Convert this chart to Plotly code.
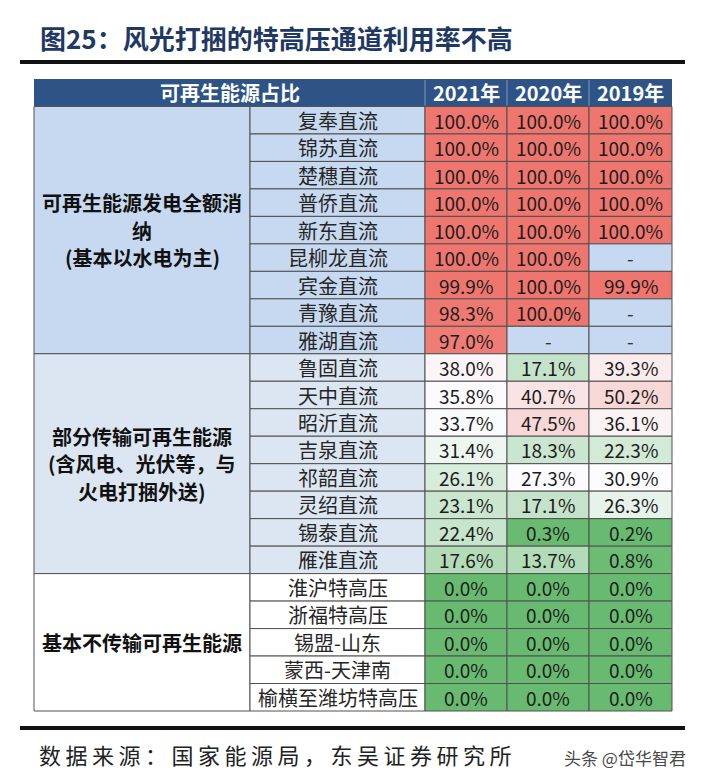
import numpy as np
import plotly.graph_objects as go

# ---------------- data ----------------
title_text = "图25：风光打捆的特高压通道利用率不高"
source_text = "数据来源：国家能源局，东吴证券研究所"
watermark_text = "头条 @岱华智君"
header_label = "可再生能源占比"
years = ["2021年", "2020年", "2019年"]

group_lines = [
    ["可再生能源发电全额消", "纳", "(基本以水电为主)"],
    ["部分传输可再生能源", "(含风电、光伏等，与", "火电打捆外送)"],
    ["基本不传输可再生能源"],
]
group_sizes = [9, 8, 5]

lines = ["复奉直流", "锦苏直流", "楚穗直流", "普侨直流", "新东直流", "昆柳龙直流",
         "宾金直流", "青豫直流", "雅湖直流", "鲁固直流", "天中直流", "昭沂直流",
         "吉泉直流", "祁韶直流", "灵绍直流", "锡泰直流", "雁淮直流", "淮沪特高压",
         "浙福特高压", "锡盟-山东", "蒙西-天津南", "榆横至潍坊特高压"]

v2021 = [100.0, 100.0, 100.0, 100.0, 100.0, 100.0, 99.9, 98.3, 97.0, 38.0, 35.8,
         33.7, 31.4, 26.1, 23.1, 22.4, 17.6, 0.0, 0.0, 0.0, 0.0, 0.0]
v2020 = [100.0, 100.0, 100.0, 100.0, 100.0, 100.0, 100.0, 100.0, None, 17.1, 40.7,
         47.5, 18.3, 27.3, 17.1, 0.3, 13.7, 0.0, 0.0, 0.0, 0.0, 0.0]
v2019 = [100.0, 100.0, 100.0, 100.0, 100.0, None, 99.9, None, None, 39.3, 50.2,
         36.1, 22.3, 30.9, 26.3, 0.2, 0.8, 0.0, 0.0, 0.0, 0.0, 0.0]
values = [v2021, v2020, v2019]

# ---------------- style / layout ----------------
W, H = 704, 780
X_EDGES = [34, 250, 425, 507, 589, 672]
HEADER_TOP, TABLE_BOTTOM = 79, 711
n_rows = len(lines)
ROW_PX = (TABLE_BOTTOM - HEADER_TOP) / (n_rows + 1)
# y axis in row units: header is row -1, data rows 0..n-1
y_top = -1 - HEADER_TOP / ROW_PX
y_bot = n_rows + (H - TABLE_BOTTOM) / ROW_PX

FONT = "Noto Sans CJK SC"
HEADER_BG = "#2e5487"
GROUP_BG = ["#c6d9f0", "#dce6f2", "#ffffff"]
DASH_BG = "#c6d9f0"
GRID = "#505050"
RED = np.array([238, 118, 110])
WHITE = np.array([252, 252, 255])
GREEN = np.array([104, 186, 112])


def scale_color(v, lo, mid, hi):
    if v >= mid:
        t = 0 if hi == mid else (v - mid) / (hi - mid)
        c = WHITE + (RED - WHITE) * t
    else:
        t = 0 if mid == lo else (mid - v) / (mid - lo)
        c = WHITE + (GREEN - WHITE) * t
    c = np.clip(np.round(c), 0, 255).astype(int)
    return f"rgb({c[0]},{c[1]},{c[2]})"


shapes = []
annotations = []


def rect(x0, x1, y0, y1, fill, line_color=GRID, lw=1):
    shapes.append(dict(type="rect", xref="x", yref="y", x0=x0, x1=x1, y0=y0, y1=y1,
                       fillcolor=fill, line=dict(color=line_color, width=lw),
                       layer="below"))


def text(x, y, s, size=20, color="#1a1a1a", bold=False):
    annotations.append(dict(xref="x", yref="y", x=x, y=y, text=f"<b>{s}</b>" if bold else s,
                            showarrow=False, xanchor="center", yanchor="middle",
                            font=dict(family=FONT, size=size, color=color)))


# header
rect(X_EDGES[0], X_EDGES[-1], -1, 0, HEADER_BG, HEADER_BG, 0)
for xe in X_EDGES[2:5]:
    shapes.append(dict(type="line", xref="x", yref="y", x0=xe, x1=xe, y0=-0.97, y1=-0.03,
                       line=dict(color="#7d99c0", width=1)))
text((X_EDGES[0] + X_EDGES[2]) / 2, -0.5, header_label, size=20, color="white", bold=True)
for j, yr in enumerate(years):
    text((X_EDGES[2 + j] + X_EDGES[3 + j]) / 2, -0.5, yr, size=20, color="white", bold=True)

# group column + names
row_group = []
start = 0
for g, size in enumerate(group_sizes):
    rect(X_EDGES[0], X_EDGES[1], start, start + size, GROUP_BG[g])
    mid = start + size / 2
    nl = len(group_lines[g])
    for k, s in enumerate(group_lines[g]):
        text((X_EDGES[0] + X_EDGES[1]) / 2, mid + (k - (nl - 1) / 2), s, size=20,
             color="#111111", bold=True)
    row_group += [g] * size
    start += size

for i, name in enumerate(lines):
    rect(X_EDGES[1], X_EDGES[2], i, i + 1, GROUP_BG[row_group[i]])
    text((X_EDGES[1] + X_EDGES[2]) / 2, i + 0.5, name, size=20, color="#262626")

# value cells
for j, col in enumerate(values):
    nums = [v for v in col if v is not None]
    lo, hi, mid = min(nums), max(nums), float(np.median(nums))
    for i, v in enumerate(col):
        x0, x1 = X_EDGES[2 + j], X_EDGES[3 + j]
        if v is None:
            rect(x0, x1, i, i + 1, DASH_BG)
            text((x0 + x1) / 2, i + 0.5, "-", size=19, color="#333333")
        else:
            rect(x0, x1, i, i + 1, scale_color(v, lo, mid, hi))
            text((x0 + x1) / 2, i + 0.5, f"{v:.1f}%", size=19, color="#1c1c1c")

# title, rules, footer
annotations.append(dict(xref="paper", yref="paper", x=38 / W, y=1 - 37 / H, text=f"<b>{title_text}</b>",
                        showarrow=False, xanchor="left", yanchor="middle",
                        font=dict(family=FONT, size=26, color="#1f3864")))
for yy in (62, 728):
    shapes.append(dict(type="line", xref="x", yref="paper", x0=20, x1=685,
                       y0=1 - yy / H, y1=1 - yy / H, line=dict(color="#111111", width=4)))
annotations.append(dict(xref="paper", yref="paper", x=37 / W, y=1 - 754 / H, text=source_text,
                        showarrow=False, xanchor="left", yanchor="middle", align="left",
                        font=dict(family=FONT, size=22, color="#222222")))
annotations.append(dict(xref="paper", yref="paper", x=688 / W, y=1 - 757 / H, text=watermark_text,
                        showarrow=False, xanchor="right", yanchor="middle",
                        font=dict(family=FONT, size=17, color="#4a4a4a")))

fig = go.Figure()
fig.add_trace(go.Scatter(x=[0], y=[0], mode="markers", marker=dict(opacity=0),
                         hoverinfo="skip", showlegend=False))
fig.update_layout(
    width=W, height=H, margin=dict(l=0, r=0, t=0, b=0),
    paper_bgcolor="white", plot_bgcolor="white",
    xaxis=dict(range=[0, W], visible=False, fixedrange=True),
    yaxis=dict(range=[y_bot, y_top], visible=False, fixedrange=True),
    shapes=shapes, annotations=annotations, showlegend=False,
)

post = """
document.body.style.margin = '0';
document.body.style.padding = '0';
document.querySelectorAll('text.annotation-text').forEach(function(t){
  if (t.textContent.indexOf('数据来源') === 0) { t.style.letterSpacing = '4.5px'; }
});
"""
fig.write_html("out.html", post_script=post, config={"displayModeBar": False})
